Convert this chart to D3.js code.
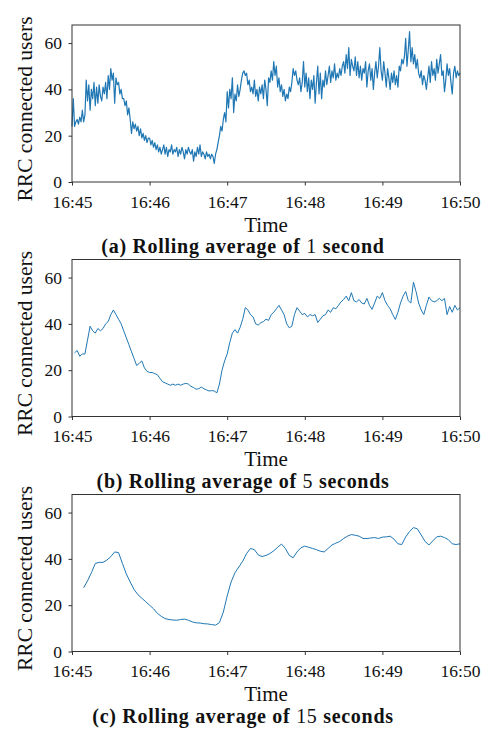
<!DOCTYPE html>
<html>
<head>
<meta charset="utf-8">
<script src="https://cdn.jsdelivr.net/npm/d3@7"></script>
<style>
  html, body { margin: 0; padding: 0; background: #fff; }
  svg { display: block; font-family: "Liberation Serif", "DejaVu Serif", serif; }
</style>
</head>
<body>
<script>
// ---- data ----
const startTime = [16, 45, 0];           // 16:45:00
const endTime = [16, 50, 0];
const xTickLabels = ["16:45", "16:46", "16:47", "16:48", "16:49", "16:50"];
const yTickValues = [0, 20, 40, 60];
const captions = [
  ["(a) Rolling average of ", "1", " second"],
  ["(b) Rolling average of ", "5", " seconds"],
  ["(c) Rolling average of ", "15", " seconds"]
];

// 1-second rolling average, one value per second from 16:45:00
const seriesAStart = 0, seriesAStep = 1;
const seriesA = [
  24, 36, 24, 26, 27, 25, 28, 26, 31, 26,
  29, 44, 35, 42, 31, 40, 36, 43, 33, 41,
  34, 42, 37, 35, 41, 38, 43, 36, 46, 40,
  49, 44, 47, 34, 45, 42, 43, 38, 40, 36,
  36, 33, 35, 29, 32, 27, 21, 26, 23, 25,
  22, 24, 20, 23, 19, 21, 18, 20, 17, 19,
  19, 16, 18, 15, 17, 14, 16, 13, 15, 12,
  14, 16, 12, 15, 11, 14, 13, 16, 12, 14,
  13, 15, 11, 14, 12, 15, 13, 10, 14, 12,
  15, 13, 12, 14, 9, 13, 11, 15, 12, 16,
  11, 13, 12, 10, 13, 11, 12, 10, 12, 11,
  8, 12, 14, 17, 20, 24, 22, 27, 30, 26,
  39, 32, 40, 36, 45, 30, 38, 35, 42, 37,
  40, 44, 47, 48, 46, 47, 42, 44, 39, 41,
  38, 44, 37, 40, 35, 41, 38, 42, 36, 44,
  40, 33, 45, 43, 48, 44, 52, 46, 50, 41,
  45, 39, 42, 37, 40, 35, 38, 36, 41, 39,
  43, 49, 46, 48, 44, 42, 45, 39, 43, 52,
  41, 47, 39, 45, 36, 44, 40, 46, 34, 43,
  50, 38, 47, 36, 44, 41, 48, 42, 46, 50,
  43, 48, 45, 51, 44, 47, 45, 49, 46, 50,
  52, 47, 55, 49, 58, 46, 53, 50, 48, 54,
  46, 52, 45, 50, 44, 49, 47, 52, 41, 48,
  51, 44, 49, 40, 47, 52, 45, 50, 58, 48,
  44, 52, 47, 41, 49, 45, 40, 47, 43, 48,
  42, 46, 41, 50, 48, 53, 51, 54, 62, 50,
  57, 65, 52, 58, 51, 55, 49, 53, 47, 45,
  48, 42, 46, 44, 40, 45, 50, 43, 52, 46,
  49, 44, 53, 47, 51, 55, 46, 48, 39, 44,
  51, 46, 49, 43, 38, 47, 50, 45, 48, 46,
  47
];

// 5-second rolling average, every 2 seconds from 16:45:02
const seriesBStart = 2, seriesBStep = 2;
const seriesB = [
  27.5, 28.5, 26, 27, 27, 33, 39, 37, 36, 38,
  37, 38, 40, 41, 44, 46, 44, 42, 40, 37,
  34, 31, 28, 25, 22, 23, 24, 21, 19.5, 19,
  19, 18.5, 18, 16.5, 15, 14.5, 14, 13.5, 14, 13.5,
  14, 13.5, 14, 14.3, 14, 13, 12.5, 11.8, 12, 12.7,
  12, 11.5, 11, 11.2, 11, 10.2, 14, 20, 24, 27,
  32, 36, 37.5, 36, 38.5, 42, 47, 46, 44, 43,
  40, 39.5, 40.5, 41, 42, 41.5, 44, 45, 46.5, 48,
  46, 44, 40, 38.3, 39, 44, 47, 45.5, 44, 44.5,
  43, 44, 43.5, 44, 40.6, 42, 43.5, 44, 46, 45,
  47, 46.5, 48, 49.5, 50.5, 52, 50, 53.5, 50, 49.5,
  50.5, 49, 48.6, 51, 48, 46.3, 49, 52, 51, 53.5,
  50, 48, 46.5, 44, 41.9, 45, 49, 52, 54, 50,
  49, 58, 54, 49, 46, 44, 48, 51.6, 50, 49.5,
  50, 51, 50, 51, 44, 47.5, 45, 48, 46, 47
];

// 15-second rolling average, every 3 seconds from 16:45:09
const seriesCStart = 9, seriesCStep = 3;
const seriesC = [
  27.5, 30.5, 34, 38, 38.5, 38.5, 39.5, 41, 43, 42.7,
  38, 33.5, 30, 26.8, 24.5, 23, 21.5, 20, 18.5, 16.5,
  15.2, 14.2, 13.8, 13.6, 13.5, 13.8, 14, 13.5, 12.8, 12.4,
  12.3, 12, 11.9, 11.6, 11.4, 12.5, 17, 24, 30, 34,
  36.5, 39, 42.3, 44.5, 44, 41.7, 41, 41.5, 42.3, 43.5,
  45, 46.4, 44.5, 41.5, 40.5, 43, 44.8, 45.5, 45, 44.5,
  44, 43.3, 43, 44.5, 46, 46.8, 47.5, 48.8, 49.8, 50.5,
  50.2, 49.8, 48.8, 48.8, 49, 49.2, 48.8, 49.4, 49.5, 49.8,
  48.5, 46.5, 46.2, 49.5, 51.8, 53.5, 53, 50.3, 47.5, 46,
  47.8, 49.5, 49.8, 49.2, 48.3, 46.5, 46.2, 46.5
];

// ---- drawing ----
const W = 487, H = 731;
const svg = d3.select("body").append("svg").attr("width", W).attr("height", H);

const t0 = new Date(2020, 0, 1, ...startTime);
const t1 = new Date(2020, 0, 1, ...endTime);
const toDate = s => new Date(t0.getTime() + s * 1000);

const x = d3.scaleTime().domain([t0, t1]).range([72, 460]);

const panels = [
  { values: seriesA, start: seriesAStart, step: seriesAStep, off: 0 },
  { values: seriesB, start: seriesBStart, step: seriesBStep, off: 234.5 },
  { values: seriesC, start: seriesCStart, step: seriesCStep, off: 469.5 }
];

const tickFont = 17.5;
const axisColor = "#333";

panels.forEach((p, i) => {
  const top = 25 + p.off, bottom = 182 + p.off;
  const y = d3.scaleLinear().domain([0, 67.8]).range([bottom, top]);
  const g = svg.append("g");

  const pts = p.values.map((v, k) => ({ t: toDate(p.start + k * p.step), v }));
  g.append("path")
    .datum(pts)
    .attr("fill", "none")
    .attr("stroke", "#1f77b4")
    .attr("stroke-width", i === 0 ? 1.2 : 1)
    .attr("stroke-linejoin", "round")
    .attr("d", d3.line().x(d => x(d.t)).y(d => y(d.v)));

  // x axis
  const xAxis = d3.axisBottom(x)
    .tickValues(d3.range(6).map(k => toDate(k * 60)))
    .tickFormat((d, k) => xTickLabels[k])
    .tickSize(3.5);
  const gx = g.append("g").attr("transform", `translate(0,${bottom})`).call(xAxis);
  gx.select(".domain").remove();
  gx.selectAll("line").attr("stroke", axisColor);
  gx.selectAll("text")
    .attr("y", 25.5).attr("dy", 0)
    .attr("font-size", tickFont).attr("fill", "#111")
    .attr("font-family", "Liberation Serif, serif");

  // y axis
  const yAxis = d3.axisLeft(y).tickValues(yTickValues).tickSize(3.5).tickPadding(6.5);
  const gy = g.append("g").attr("transform", "translate(72,0)").call(yAxis);
  gy.select(".domain").remove();
  gy.selectAll("line").attr("stroke", axisColor);
  gy.selectAll("text").attr("font-size", tickFont).attr("fill", "#111")
    .attr("font-family", "Liberation Serif, serif");

  // frame
  g.append("rect")
    .attr("x", 72).attr("y", top)
    .attr("width", 460 - 72).attr("height", bottom - top)
    .attr("fill", "none").attr("stroke", axisColor).attr("stroke-width", 1);

  // axis labels
  g.append("text")
    .attr("x", 266).attr("y", 231.5 + p.off)
    .attr("text-anchor", "middle")
    .attr("font-size", 21).attr("fill", "#111")
    .text("Time");

  g.append("text")
    .attr("transform", `translate(32,${109 + p.off}) rotate(-90)`)
    .attr("text-anchor", "middle")
    .attr("font-size", 21.5).attr("fill", "#111")
    .text("RRC connected users");

  // caption
  const cap = g.append("text")
    .attr("x", 243).attr("y", 253 + p.off)
    .attr("text-anchor", "middle")
    .attr("font-size", 20).attr("fill", "#111")
    .attr("letter-spacing", 0.7);
  cap.append("tspan").attr("font-weight", "bold").text(captions[i][0]);
  cap.append("tspan").attr("font-weight", "normal").text(captions[i][1]);
  cap.append("tspan").attr("font-weight", "bold").text(captions[i][2]);
});
</script>
</body>
</html>
